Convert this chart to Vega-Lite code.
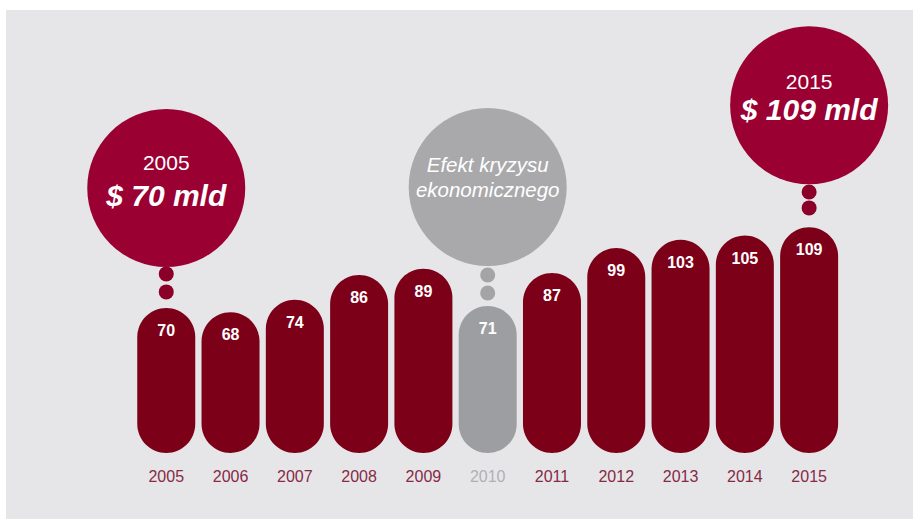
{
  "$schema": "https://vega.github.io/schema/vega-lite/v6.json",
  "width": 907,
  "height": 509,
  "autosize": {"type": "none"},
  "padding": {"left": 6, "top": 10, "right": 0, "bottom": 0},
  "background": "white",
  "config": {"view": {"fill": "#e6e6e8", "stroke": null}},
  "datasets": {
    "bars": [
      {"year": 2005, "value": 70},
      {"year": 2006, "value": 68},
      {"year": 2007, "value": 74},
      {"year": 2008, "value": 86},
      {"year": 2009, "value": 89},
      {"year": 2010, "value": 71},
      {"year": 2011, "value": 87},
      {"year": 2012, "value": 99},
      {"year": 2013, "value": 103},
      {"year": 2014, "value": 105},
      {"year": 2015, "value": 109}
    ],
    "bubbles": [
      {"year": 2005, "level": 128},
      {"year": 2010, "level": 128.5},
      {"year": 2015, "level": 168}
    ],
    "dots": [
      {"year": 2005, "level": 86.5},
      {"year": 2005, "level": 77.8},
      {"year": 2010, "level": 86},
      {"year": 2010, "level": 77.3},
      {"year": 2015, "level": 126.1},
      {"year": 2015, "level": 118.4}
    ],
    "smallText": [
      {"year": 2005, "level": 139.5, "label": "2005"},
      {"year": 2015, "level": 178.8, "label": "2015"}
    ],
    "bigText": [
      {"year": 2005, "level": 123.5, "label": "$ 70 mld"},
      {"year": 2015, "level": 165, "label": "$ 109 mld"}
    ],
    "crisisText": [
      {"year": 2010, "level": 138.6, "label": "Efekt kryzysu"},
      {"year": 2010, "level": 126.5, "label": "ekonomicznego"}
    ]
  },
  "layer": [
    {
      "data": {"name": "bars"},
      "mark": {"type": "bar", "width": 58, "cornerRadius": 29},
      "encoding": {
        "x": {"field": "year", "type": "quantitative", "scale": {"domain": [2002.585, 2016.538], "nice": false, "zero": false}, "axis": null},
        "y": {"field": "value", "type": "quantitative", "scale": {"domain": [-31.9, 214.0], "nice": false, "zero": false}, "axis": null},
        "y2": {"datum": 0},
        "color": {"condition": {"test": "datum.year === 2010", "value": "#9d9ea2"}, "value": "#7d0019"}
      }
    },
    {
      "data": {"name": "bars"},
      "mark": {"type": "text", "font": "Liberation Sans", "fontSize": 16, "fontWeight": "bold", "baseline": "middle", "align": "center", "dy": 23, "color": "white"},
      "encoding": {
        "x": {"field": "year", "type": "quantitative"},
        "y": {"field": "value", "type": "quantitative"},
        "text": {"field": "value", "type": "quantitative"}
      }
    },
    {
      "data": {"name": "bars"},
      "mark": {"type": "text", "font": "Liberation Sans", "fontSize": 16, "baseline": "middle", "align": "center"},
      "encoding": {
        "x": {"field": "year", "type": "quantitative"},
        "y": {"datum": -11.6},
        "text": {"field": "year", "type": "nominal"},
        "color": {"condition": {"test": "datum.year === 2010", "value": "#b0b0b4"}, "value": "#862a45"}
      }
    },
    {
      "data": {"name": "dots"},
      "mark": {"type": "point", "filled": true, "shape": "circle", "size": 225, "opacity": 1},
      "encoding": {
        "x": {"field": "year", "type": "quantitative"},
        "y": {"field": "level", "type": "quantitative"},
        "color": {"condition": {"test": "datum.year === 2010", "value": "#a4a4a6"}, "value": "#8a0028"}
      }
    },
    {
      "data": {"name": "bubbles"},
      "mark": {"type": "point", "filled": true, "shape": "circle", "size": 24964, "opacity": 1},
      "encoding": {
        "x": {"field": "year", "type": "quantitative"},
        "y": {"field": "level", "type": "quantitative"},
        "color": {"condition": {"test": "datum.year === 2010", "value": "#a9a9ab"}, "value": "#9b0033"}
      }
    },
    {
      "data": {"name": "smallText"},
      "mark": {"type": "text", "font": "Liberation Sans", "fontSize": 21, "baseline": "middle", "align": "center", "color": "white"},
      "encoding": {
        "x": {"field": "year", "type": "quantitative"},
        "y": {"field": "level", "type": "quantitative"},
        "text": {"field": "label", "type": "nominal"}
      }
    },
    {
      "data": {"name": "bigText"},
      "mark": {"type": "text", "font": "Liberation Sans", "fontSize": 30, "fontWeight": "bold", "fontStyle": "italic", "baseline": "middle", "align": "center", "color": "white"},
      "encoding": {
        "x": {"field": "year", "type": "quantitative"},
        "y": {"field": "level", "type": "quantitative"},
        "text": {"field": "label", "type": "nominal"}
      }
    },
    {
      "data": {"name": "crisisText"},
      "mark": {"type": "text", "font": "Liberation Sans", "fontSize": 20.5, "fontStyle": "italic", "baseline": "middle", "align": "center", "color": "white"},
      "encoding": {
        "x": {"field": "year", "type": "quantitative"},
        "y": {"field": "level", "type": "quantitative"},
        "text": {"field": "label", "type": "nominal"}
      }
    }
  ]
}
